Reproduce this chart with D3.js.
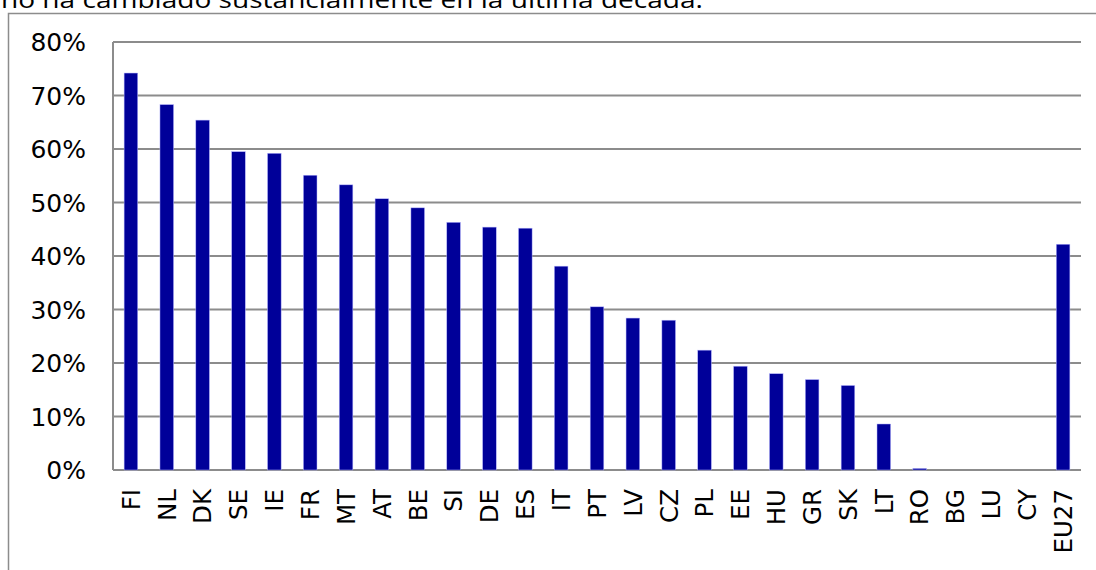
<!DOCTYPE html>
<html>
<head>
<meta charset="utf-8">
<script src="https://cdn.jsdelivr.net/npm/d3@7"></script>
<style>
  body { margin: 0; background: #fff; }
  svg { display: block; }
</style>
</head>
<body>
<svg id="chart" width="1096" height="570"></svg>
<script>
// categories and values (share, 0..1)
let countries = ['FI','NL','DK','SE','IE','FR','MT','AT','BE','SI','DE','ES','IT','PT','LV','CZ','PL','EE','HU','GR','SK','LT','RO','BG','LU','CY','EU27'];
let shares = [0.742, 0.683, 0.654, 0.595, 0.592, 0.551, 0.533, 0.507, 0.490, 0.463, 0.454, 0.452, 0.381, 0.305, 0.284, 0.280, 0.224, 0.194, 0.180, 0.169, 0.158, 0.086, 0.003, 0, 0, 0, 0.422];
let yTicks = [0, 0.1, 0.2, 0.3, 0.4, 0.5, 0.6, 0.7, 0.8];
let titleText = 'no ha cambiado sustancialmente en la última década.';

let margin = {left: 113, right: 1081, top: 42, bottom: 470};
let gridCol = '#8c8c8c';

let svg = d3.select('#chart');

// cut-off sentence above the chart
svg.append('text')
  .attr('x', 1)
  .attr('y', 7.5)
  .attr('textLength', 702)
  .attr('lengthAdjust', 'spacingAndGlyphs')
  .style('font-family', '"Open Sans", sans-serif')
  .style('font-size', '24px')
  .style('fill', '#000')
  .text(titleText);

// outer chart frame (runs off the page to the right and bottom)
svg.append('rect')
  .attr('x', 8.5)
  .attr('y', 13.5)
  .attr('width', 1200)
  .attr('height', 700)
  .attr('fill', 'none')
  .attr('stroke', gridCol)
  .attr('stroke-width', 1.5);

let x = d3.scaleBand()
  .domain(countries)
  .range([margin.left, margin.right])
  .paddingInner(0.62)
  .paddingOuter(0.31);

let y = d3.scaleLinear()
  .domain([0, 0.8])
  .range([margin.bottom, margin.top]);

// gridlines
svg.append('g')
  .attr('class', 'grid')
  .selectAll('line')
  .data(yTicks)
  .enter()
  .append('line')
  .attr('x1', margin.left)
  .attr('x2', margin.right)
  .attr('y1', d => y(d))
  .attr('y2', d => y(d))
  .style('stroke', gridCol)
  .style('stroke-width', '2px');

// left axis line
svg.append('line')
  .attr('x1', margin.left)
  .attr('x2', margin.left)
  .attr('y1', margin.top)
  .attr('y2', margin.bottom)
  .style('stroke', gridCol)
  .style('stroke-width', '2px');

// y tick labels
svg.append('g')
  .selectAll('text')
  .data(yTicks)
  .enter()
  .append('text')
  .attr('x', 86)
  .attr('y', d => y(d))
  .attr('dy', '0.36em')
  .style('text-anchor', 'end')
  .style('font-family', '"DejaVu Sans", Verdana, sans-serif')
  .style('font-size', '25px')
  .style('fill', '#000')
  .text(d3.format('.0%'));

// bars
svg.append('g')
  .attr('class', 'bars')
  .selectAll('rect')
  .data(countries)
  .enter()
  .append('rect')
  .attr('x', d => x(d))
  .attr('width', x.bandwidth())
  .attr('y', (d, i) => y(shares[i]))
  .attr('height', (d, i) => y(0) - y(shares[i]))
  .style('fill', '#000099')
  .style('stroke', '#b8b8ff')
  .style('stroke-width', '0.5px');

// category labels, rotated
svg.append('g')
  .selectAll('text')
  .data(countries)
  .enter()
  .append('text')
  .attr('transform', d => `translate(${x(d) + x.bandwidth()/2}, 489) rotate(-90)`)
  .attr('dy', '0.36em')
  .style('text-anchor', 'end')
  .style('font-family', '"DejaVu Sans", Verdana, sans-serif')
  .style('font-size', '24.5px')
  .style('fill', '#000')
  .text(d => d);
</script>
</body>
</html>
